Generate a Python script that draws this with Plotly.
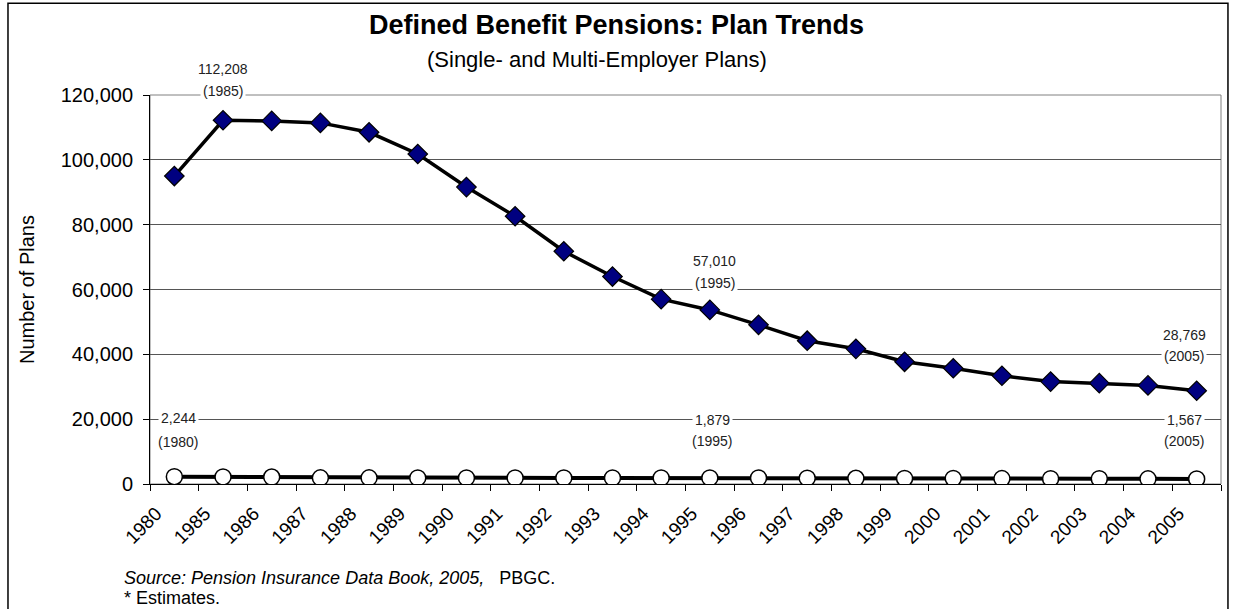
import plotly.graph_objects as go

years = ["1980", "1985", "1986", "1987", "1988", "1989", "1990", "1991", "1992", "1993",
         "1994", "1995", "1996", "1997", "1998", "1999", "2000", "2001", "2002", "2003",
         "2004", "2005"]
single_plans = [95000, 112208, 112000, 111400, 108500, 101800, 91600, 82600, 71800, 64000,
                57010, 53700, 49100, 44200, 41700, 37700, 35700, 33400, 31600, 31100,
                30400, 28769]
multi_plans = [2244, 2188, 2150, 1900, 1890, 1885, 1880, 1881, 1878, 1880,
               1882, 1879, 1850, 1800, 1760, 1730, 1700, 1670, 1650, 1620,
               1590, 1567]
y_ticks = [0, 20000, 40000, 60000, 80000, 100000, 120000]

callout_values = ["112,208", "57,010", "28,769", "2,244", "1,879", "1,567"]
callout_years = ["(1985)", "(1995)", "(2005)", "(1980)", "(1995)", "(2005)"]
# layout positions of the callouts (category index, paper y of first and second line)
callout_x = [1.0, 11.1, 20.75, 0.08, 11.05, 20.75]
callout_y1 = [1.066, 0.573, 0.383, 0.170, 0.165, 0.165]
callout_y2 = [1.010, 0.516, 0.329, 0.108, 0.110, 0.110]

TXT = "Liberation Sans, Arial, sans-serif"

fig = go.Figure()
fig.add_trace(go.Scatter(
    x=years, y=single_plans, mode="lines+markers",
    line=dict(color="black", width=3.5),
    marker=dict(symbol="diamond", size=15, color="#000080",
                line=dict(color="black", width=1.2)),
    hoverinfo="x+y", showlegend=False))
fig.add_trace(go.Scatter(
    x=years, y=multi_plans, mode="lines+markers",
    line=dict(color="black", width=4),
    marker=dict(symbol="circle", size=16, color="white",
                line=dict(color="black", width=1.5)),
    hoverinfo="x+y", showlegend=False))

annotations = []
for v, yr, cx, cy1, cy2 in zip(callout_values, callout_years, callout_x, callout_y1, callout_y2):
    for txt, cy in ((v, cy1), (yr, cy2)):
        annotations.append(dict(x=cx, y=cy, xref="x", yref="paper", text=txt,
                                xanchor="center", yanchor="middle", showarrow=False,
                                font=dict(family=TXT, size=14, color="#222"),
                                bgcolor="white", borderpad=2))

annotations += [
    dict(x=0.436, y=1.180, xref="paper", yref="paper", xanchor="center", yanchor="middle",
         showarrow=False, text="<b>Defined Benefit Pensions: Plan Trends</b>",
         font=dict(family=TXT, size=27, color="black")),
    dict(x=0.417, y=1.092, xref="paper", yref="paper", xanchor="center", yanchor="middle",
         showarrow=False, text="(Single- and Multi-Employer Plans)",
         font=dict(family=TXT, size=22, color="black")),
    dict(x=-0.026, y=-0.2416, xref="paper", yref="paper", xanchor="left", yanchor="middle",
         showarrow=False, text="<i>Source: Pension Insurance Data Book, 2005,</i>   PBGC.",
         font=dict(family=TXT, size=18, color="black")),
    dict(x=-0.026, y=-0.293, xref="paper", yref="paper", xanchor="left", yanchor="middle",
         showarrow=False, text="* Estimates.",
         font=dict(family=TXT, size=18, color="black")),
]

fig.update_layout(
    width=1235, height=609,
    margin=dict(l=150, r=14, t=95, b=125),
    paper_bgcolor="white", plot_bgcolor="white",
    annotations=annotations,
    shapes=[
        dict(type="rect", xref="paper", yref="paper", x0=0, x1=1, y0=0, y1=1,
             line=dict(color="#808080", width=1), layer="below"),
        dict(type="rect", xref="paper", yref="paper", x0=-0.1326, x1=1.0065,
             y0=-0.35, y1=1.236, line=dict(color="black", width=1.5), layer="below"),
    ],
    xaxis=dict(type="category", categoryorder="array", categoryarray=years,
               range=[-0.5, len(years) - 0.5], tickson="boundaries",
               ticks="outside", ticklen=6, tickcolor="black", tickwidth=1,
               tickangle=-45, ticklabelshift=-18, ticklabelstandoff=10,
               tickfont=dict(family=TXT, size=19, color="black"),
               showline=True, linecolor="black", linewidth=1,
               showgrid=False, zeroline=False),
    yaxis=dict(range=[0, 120000], tickvals=y_ticks, tickformat=",d",
               ticks="outside", ticklen=6, tickcolor="black",
               ticklabelstandoff=6,
               tickfont=dict(family=TXT, size=20, color="black"),
               showline=True, linecolor="black", linewidth=1,
               showgrid=True, gridcolor="#555555", gridwidth=1, zeroline=False,
               title=dict(text="Number of Plans", standoff=20,
                          font=dict(family=TXT, size=20, color="black"))),
)

fig.write_html("out.html")
